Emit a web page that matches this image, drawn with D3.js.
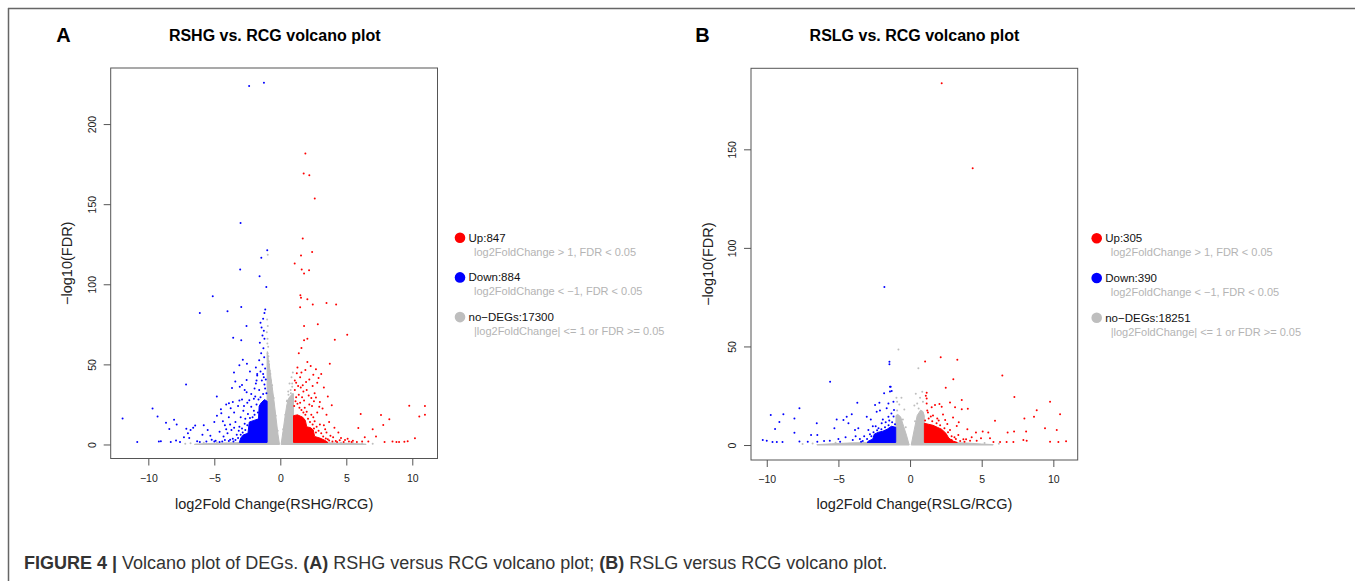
<!DOCTYPE html>
<html>
<head>
<meta charset="utf-8">
<script src="https://cdn.jsdelivr.net/npm/d3@7"></script>
<style>
  html, body { margin: 0; padding: 0; background: #fff; }
  svg { display: block; }
  text { font-family: "Liberation Sans", Arial, Helvetica, sans-serif; }
</style>
</head>
<body>
<svg id="fig" width="1355" height="581"></svg>
<script>
// ---- axis ticks ----
const xTicks = [-10, -5, 0, 5, 10];
const yTicksA = [0, 50, 100, 150, 200];
const yTicksB = [0, 50, 100, 150];

// ---- titles / labels ----
const panelLetters = ["A", "B"];
const panelTitles = ["RSHG vs. RCG volcano plot", "RSLG vs. RCG volcano plot"];
const xTitles = ["log2Fold Change(RSHG/RCG)", "log2Fold Change(RSLG/RCG)"];
const yTitle = "\u2212log10(FDR)";

// ---- legend ----
const legendLabelsA = ["Up:847", "Down:884", "no\u2212DEGs:17300"];
const legendLabelsB = ["Up:305", "Down:390", "no\u2212DEGs:18251"];
const legendRules = [
  "log2FoldChange > 1, FDR < 0.05",
  "log2FoldChange < \u22121, FDR < 0.05",
  "|log2FoldChange| <= 1 or FDR >= 0.05"
];
const classColors = ["#ff0000", "#0000ff", "#bebebe"];

// ---- panel A: dense cores (log2FC, -log10 FDR outlines) ----
const nsLeftA = [[-0.06,0],[-0.18,6.5],[-0.33,17],[-0.48,27.5],[-0.65,38],[-0.78,46],[-0.9,53],[-0.98,58],[-1.0,56],[-1.0,1.3],[-2.5,1.3],[-4,1.0],[-5.5,0.6],[-6.5,0.2],[-6.5,0]];
const nsRightA = [[0.06,0],[0.2,8],[0.35,17],[0.5,25],[0.65,29],[0.85,31],[0.97,32],[1.0,29],[1.0,1.3],[2.5,1.3],[4,1.0],[5.5,0.6],[6.5,0.2],[6.5,0]];
const downCoreA = [[-1.0,1.3],[-1.0,27],[-1.2,28],[-1.45,26],[-1.6,24],[-1.65,16],[-2.0,15],[-2.35,14],[-2.45,7],[-2.8,6],[-3.0,4],[-3.1,1.3]];
const upCoreA = [[1.0,1.3],[1.0,18],[1.3,18.5],[1.7,17],[1.9,15],[2.0,11],[2.3,10.5],[2.5,9],[2.6,5],[3.0,4],[3.4,2.5],[3.6,1.3]];

// ---- panel A: individual genes outside the cores ----
const nsA = [[-1.0,78],[-0.95,74],[-1.02,70],[-0.97,66],[-0.92,61],[-0.96,57],[-0.9,55],[-0.85,50],[-0.8,46],[-0.72,40],[-0.65,35],[-0.55,30],[-0.95,118.5],
  [0.95,45],[0.85,42],[0.7,38],[0.9,36],[0.6,33],[0.8,32],[0.5,27],[0.95,31],[0.75,29],
  [-0.2,8.5],[-0.35,18],[-0.5,29],[-0.62,37],[-0.75,44],[0.22,9.5],[0.38,18.5],[0.52,27.5],[0.62,31],[0.78,34],[0.9,38],[-0.88,52],[-0.98,63],
  [-6.8,0.8],[-5.8,1.1],[5.5,0.9],[6.2,0.6],[-7.2,0.4],[7.0,0.5],[-4.8,1.2],[4.6,1.1]];

const upA = [
  [1.90,181.7],[1.77,169.2],[2.20,168.1],[2.61,153.5],[1.70,128.5],[1.57,118.0],[2.41,120.2],[1.09,113.0],[1.62,109.2],[2.18,108.8],[1.80,106.7],
  [1.52,93.1],[1.57,91.6],[2.05,90.6],[1.50,85.6],[2.46,87.3],[3.50,88.3],[4.23,87.3],[1.80,73.9],[2.84,75.0],[5.07,68.5],[2.05,66.0],[1.80,65.0],
  [4.13,65.4],[1.60,60.2],[3.75,50.4],[2.05,51.5],
  [1.40,57.0],[1.30,48.0],[2.30,49.0],[2.70,47.0],[1.90,46.5],[2.50,43.5],[1.50,42.0],[3.10,44.0],[2.20,40.5],[1.20,38.5],[1.70,37.0],[2.80,38.5],
  [3.30,35.5],[2.00,34.0],[2.60,32.0],[1.40,31.0],[3.60,30.0],[2.70,29.3],[1.80,27.5],[3.00,26.5],[3.90,24.5],[2.20,25.0],[1.10,34.0],[1.55,35.5],
  [2.45,36.5],[1.25,44.5],[2.90,41.5],[1.65,29.5],[2.35,29.0],[3.20,22.5],[2.80,20.0],[3.50,18.5],[2.50,17.0],[3.70,14.0],[3.00,12.5],[4.10,10.5],
  [3.40,9.5],[4.40,7.5],[3.80,5.5],[4.60,4.0],[4.90,2.8],[5.20,1.8],[4.20,2.2],[3.60,3.2],[5.50,2.3],[5.80,1.6],[6.20,1.9],
  [5.91,10.3],[6.09,19.1],[7.00,9.5],[7.25,5.0],[7.63,18.4],[7.80,12.2],[8.26,15.7],[8.50,1.8],[9.00,1.6],[9.40,1.7],[9.65,2.0],[10.20,3.9],
  [9.77,24.1],[10.53,17.4],[10.96,24.0],[10.96,18.6],[6.67,1.8],[7.90,1.5],[6.40,4.5],[8.80,1.6],
  [1.05,24.0],[1.15,27.0],[1.30,25.5],[1.45,23.0],[1.60,21.5],[1.75,20.0],[1.90,18.5],[2.10,16.0],[2.25,14.0],[2.45,12.5],[1.20,29.5],[1.50,26.0],
  [1.85,23.0],[2.00,20.5],[2.35,18.5],[2.60,14.5],[2.75,11.0],[2.90,8.5],[3.10,7.0],[3.25,5.0],[3.45,3.8],[3.70,2.5],[3.95,1.9],[4.30,1.6],
  [2.70,7.5],[2.55,10.0],[3.30,12.0],[3.50,7.5],[4.00,4.5],[4.50,2.6],[4.80,1.5],[5.10,3.5],[5.40,1.6],[1.10,40.0],[1.35,36.5],[1.75,33.0],
  [2.15,30.5],[2.55,27.0],[2.95,23.5],[1.60,45.0],[2.40,24.0],[1.95,39.0]
];

const downA = [
  [-2.36,223.8],[-1.24,225.8],[-3.01,138.3],[-0.99,121.3],[-1.44,116.5],[-3.04,109.2],[-1.57,105.0],[-1.06,98.3],[-5.12,92.5],[-2.96,85.8],
  [-4.00,83.1],[-6.10,82.1],[-1.14,84.2],[-1.20,82.0],[-2.56,74.0],[-3.57,66.7],[-2.96,65.0],
  [-1.30,78.5],[-1.50,76.0],[-1.42,73.0],[-1.25,71.0],[-1.35,68.0],[-1.20,66.0],[-1.55,63.5],[-1.28,60.0],[-1.45,57.0],[-1.22,54.5],[-1.60,52.5],
  [-1.35,50.0],[-1.15,47.5],[-1.50,45.5],[-1.75,43.0],[-1.25,42.0],[-1.40,40.0],[-1.85,38.0],[-1.20,37.5],
  [-2.84,52.9],[-2.53,50.4],[-3.10,49.4],[-2.30,45.5],[-3.51,44.9],[-3.41,39.3],[-3.07,36.1],[-2.90,37.2],[-2.55,40.3],[-3.66,35.3],[-7.14,37.5],
  [-4.81,29.9],[-2.70,34.0],[-2.20,31.5],[-2.00,28.5],[-1.95,35.0],[-1.80,40.0],[-1.75,44.0],[-1.85,48.0],
  [-11.95,16.25],[-10.84,1.5],[-9.68,22.5],[-9.30,17.5],[-9.05,2.0],[-9.20,1.8],[-8.66,13.5],[-8.41,9.6],[-8.05,15.4],[-7.85,12.5],[-8.30,1.6],
  [-7.90,2.5],[-7.60,1.5],[-7.30,4.5],[-7.12,9.8],[-7.00,7.0],[-6.80,9.0],[-6.60,10.5],[-6.45,11.8],[-6.90,4.0],[-6.30,2.0],[-5.90,6.0],[-5.80,12.0],
  [-5.50,9.0],[-5.20,3.0],[-5.30,5.5],[-5.00,14.0],[-4.90,2.3],[-4.80,18.0],[-4.60,8.0],[-4.47,19.5],[-4.50,22.0],[-4.30,5.0],[-4.40,1.8],[-4.20,12.0],
  [-4.10,25.0],[-3.90,17.0],[-3.89,25.7],[-3.80,3.0],[-3.76,22.6],[-3.70,9.0],[-3.60,26.5],[-3.50,20.0],[-3.40,14.0],[-3.30,6.0],[-3.20,24.0],
  [-3.10,11.0],[-3.10,27.4],[-3.00,17.0],[-2.90,28.0],[-2.80,21.0],[-2.70,13.0],[-2.60,3.5],[-2.50,26.0],[-2.35,27.6],[-2.55,32.6],[-6.10,1.6],
  [-5.60,1.8],[-4.00,7.0],[-3.55,1.9],
  [-1.05,32.0],[-1.15,35.0],[-1.30,31.5],[-1.50,29.5],[-1.65,28.0],[-1.80,25.0],[-1.70,20.0],[-1.95,18.5],[-2.10,17.0],[-2.30,16.5],[-2.50,12.0],
  [-2.65,9.0],[-2.85,7.5],[-3.00,6.0],[-3.20,4.0],[-3.40,2.8],[-3.60,3.5],[-3.90,2.2],[-4.20,2.8],[-4.60,1.6],[-5.00,1.9],[-1.10,40.5],[-1.30,44.0],
  [-1.60,34.0],[-1.90,30.0],[-2.20,23.5],[-2.45,19.0],[-2.65,16.0],[-2.90,10.0],[-3.15,8.5],[-3.50,10.5],[-3.80,12.5],[-4.10,9.5],[-4.35,14.5],
  [-2.00,21.0],[-2.75,24.0]
];

// ---- panel B: dense cores ----
const nsLeftB = [[-0.06,0],[-0.25,5],[-0.45,9.5],[-0.66,14.3],[-0.85,15.5],[-0.98,15],[-1.0,1.3],[-2.5,1.3],[-4,1.1],[-5.5,0.6],[-6.5,0.2],[-6.5,0]];
const nsRightB = [[0.08,0],[0.3,8],[0.5,15],[0.74,17.7],[0.9,17],[0.99,15],[1.0,1.3],[2.5,1.3],[4,1.0],[5,0.5],[5.8,0.2],[5.8,0]];
const downCoreB = [[-1.0,1.3],[-1.0,9],[-1.3,9.5],[-1.6,8],[-1.9,7],[-2.2,6.5],[-2.5,5.5],[-2.6,3],[-2.9,2],[-3.0,1.3]];
const upCoreB = [[1.0,1.3],[1.0,11],[1.3,10.5],[1.6,10],[1.9,9],[2.2,8],[2.5,6],[2.7,3.5],[3.0,2],[3.3,1.3]];

// ---- panel B: individual genes ----
const nsB = [[-0.81,48.5],[0.58,38.9],[-0.6,24],[-0.9,22],[0.4,26],[0.7,24],[0.9,22],[-0.4,18],[-0.75,20.5],[0.3,20],[0.85,27],[-0.95,24],[0.5,21],
  [-0.3,9],[-0.5,13],[0.35,12],[0.6,18.5],[-0.9,17.5],
  [-6.8,0.8],[-7.5,0.5],[6.2,0.6],[5.2,1.0],[-5.2,1.1]];

const upB = [
  [2.21,183.5],[4.37,140.4],[1.05,42.4],[2.14,44.5],[3.30,43.3],[3.02,33.3],[2.49,29.1],[6.44,35.3],[7.28,24.3],[9.77,22.0],[8.84,17.6],[8.65,14.4],
  [7.98,13.4],[10.47,15.6],[5.93,12.3],[7.26,6.8],[8.10,6.8],[9.42,8.5],[10.24,7.6],
  [1.16,26.5],[1.16,23.6],[1.16,21.1],[1.51,19.1],[1.74,20.3],[2.05,20.8],[2.21,19.4],[2.79,21.6],[3.14,19.1],[3.61,22.8],[3.61,18.1],[4.03,18.4],
  [1.10,25.0],[1.25,16.5],[1.60,15.0],[2.45,12.7],[2.60,10.7],[3.26,9.6],[2.79,7.6],[3.37,5.1],[3.72,2.9],[3.91,2.9],[4.19,2.2],[4.60,6.3],[4.65,2.2],
  [4.95,3.4],[5.07,6.8],[5.46,6.3],[5.58,3.4],[5.82,1.5],[6.28,1.5],[6.74,1.5],[6.81,6.3],[7.21,1.5],[7.91,2.5],[8.14,2.2],[9.77,1.7],[10.35,1.5],
  [10.89,1.9],[3.0,14.0],[2.3,15.5],[1.9,13.5],[3.4,11.5],[4.0,8.0],[3.1,4.0],[2.9,2.5],
  [1.05,12.5],[1.3,13.5],[1.55,12.0],[1.85,11.0],[2.1,10.0],[2.4,8.5],[2.65,6.5],[2.9,4.5],[3.2,3.0],[3.5,2.0],[1.2,17.5],[1.45,14.5],[2.0,12.5],
  [3.8,1.7],[4.3,4.0]
];

const downB = [
  [-1.79,80.2],[-1.44,42.3],[-1.44,41.0],[-1.40,29.6],[-1.40,27.1],[-5.58,32.1],[-1.81,26.2],
  [-10.28,2.5],[-9.72,15.2],[-9.42,8.1],[-9.12,11.7],[-8.84,15.6],[-9.60,1.5],[-9.30,1.5],[-8.90,1.5],[-8.07,13.5],[-7.72,18.6],[-8.07,6.2],
  [-7.72,1.8],[-7.14,1.7],[-6.91,5.1],[-6.51,11.1],[-6.47,5.1],[-6.47,1.7],[-5.28,8.5],[-5.12,13.0],[-4.88,1.7],[-4.65,12.7],[-4.42,14.4],
  [-4.30,11.1],[-4.07,15.6],[-3.84,7.6],[-3.68,21.5],[-3.61,8.5],[-3.42,1.7],[-3.02,14.4],[-2.91,7.6],[-2.74,13.0],[-2.44,20.3],[-2.33,16.9],
  [-2.14,21.5],[-1.98,11.1],[-1.63,18.6],[-1.51,21.1],[-1.35,29.6],[-1.28,27.4],[-1.16,22.0],[-1.12,17.8],[-1.51,14.4],
  [-3.2,4.5],[-3.5,3.0],[-4.0,2.5],[-4.5,4.0],[-5.0,3.0],[-2.6,9.5],[-2.2,8.5],[-1.9,13.0],[-2.8,5.5],[-1.7,11.5],[-1.3,16.0],[-2.1,17.5],
  [-3.8,4.5],[-5.6,2.2],[-6.0,2.0],[-10.0,2.2],
  [-1.05,10.5],[-1.25,11.5],[-1.5,10.0],[-1.75,9.0],[-2.0,8.0],[-2.3,7.5],[-2.55,6.5],[-2.7,4.5],[-3.0,3.0],[-3.3,2.0],[-1.15,14.5],[-1.45,12.5],
  [-2.4,9.5]
];

// ---- caption ----
const captionParts = [
  ["FIGURE 4 | ", true], ["Volcano plot of DEGs. ", false], ["(A)", true], [" RSHG versus RCG volcano plot; ", false],
  ["(B)", true], [" RSLG versus RCG volcano plot.", false]
];

const svg = d3.select("#fig");
const axisColor = "#555";

// outer figure frame (top and left rules)
svg.append("line").attr("x1", 8).attr("y1", 8.5).attr("x2", 1355).attr("y2", 8.5).attr("stroke", "#666").attr("stroke-width", 1.5);
svg.append("line").attr("x1", 8.5).attr("y1", 8).attr("x2", 8.5).attr("y2", 581).attr("stroke", "#666").attr("stroke-width", 1.5);

function drawPanel(p) {
  const g = svg.append("g");
  const x = d3.scaleLinear().domain(p.xDomain).range(p.xRange);
  const y = d3.scaleLinear().domain(p.yDomain).range(p.yRange);
  const line = d3.line().x(d => x(d[0])).y(d => y(d[1]));
  const dotR = 1.0;

  // letter + title
  g.append("text").attr("x", p.letterX).attr("y", 42).attr("font-size", 20).attr("font-weight", "bold")
    .attr("text-anchor", "middle").text(p.letter);
  g.append("text").attr("x", p.titleX).attr("y", 41).attr("font-size", 16).attr("font-weight", "bold")
    .attr("text-anchor", "middle").text(p.title);

  // dense regions, then the individual genes on top
  const dense = g.append("g");
  p.nsCores.forEach(poly => dense.append("path").attr("d", line(poly) + "Z")
    .attr("fill", classColors[2]).attr("stroke", classColors[2]).attr("stroke-width", 1));
  dense.selectAll(".ns").data(p.ns).join("circle")
    .attr("cx", d => x(d[0])).attr("cy", d => y(d[1])).attr("r", dotR).attr("fill", classColors[2]);
  dense.append("path").attr("d", line(p.upCore) + "Z").attr("fill", classColors[0]).attr("stroke", classColors[0]).attr("stroke-width", 1);
  dense.append("path").attr("d", line(p.downCore) + "Z").attr("fill", classColors[1]).attr("stroke", classColors[1]).attr("stroke-width", 1);
  dense.selectAll(".up").data(p.up).join("circle")
    .attr("cx", d => x(d[0])).attr("cy", d => y(d[1])).attr("r", dotR).attr("fill", classColors[0]);
  dense.selectAll(".down").data(p.down).join("circle")
    .attr("cx", d => x(d[0])).attr("cy", d => y(d[1])).attr("r", dotR).attr("fill", classColors[1]);

  // plot box
  g.append("rect").attr("x", p.xRange[0]).attr("y", p.yRange[1])
    .attr("width", p.xRange[1] - p.xRange[0]).attr("height", p.yRange[0] - p.yRange[1])
    .attr("fill", "none").attr("stroke", axisColor).attr("stroke-width", 1);

  // x axis
  const gx = g.append("g").attr("transform", `translate(0,${p.yRange[0]})`)
    .call(d3.axisBottom(x).tickValues(xTicks).tickSize(7).tickPadding(9));
  gx.select(".domain").remove();
  gx.selectAll("line").attr("stroke", axisColor);
  gx.selectAll("text").attr("font-size", 10.5).attr("fill", "#222")
    .style("font-family", '"Liberation Sans", Arial, sans-serif');

  // y axis with rotated labels
  const gy = g.append("g").attr("transform", `translate(${p.xRange[0]},0)`)
    .call(d3.axisLeft(y).tickValues(p.yTicks).tickSize(7));
  gy.select(".domain").remove();
  gy.selectAll("line").attr("stroke", axisColor);
  gy.selectAll("text").attr("transform", "rotate(-90)").attr("x", 0).attr("y", -15).attr("dy", 0)
    .attr("text-anchor", "middle").attr("font-size", 10.5).attr("fill", "#222")
    .style("font-family", '"Liberation Sans", Arial, sans-serif');

  // axis titles
  g.append("text").attr("x", (p.xRange[0] + p.xRange[1]) / 2).attr("y", 509).attr("font-size", 14.5)
    .attr("text-anchor", "middle").attr("fill", "#222").text(p.xTitle);
  g.append("text").attr("transform", `translate(${p.yTitleX},${(p.yRange[0] + p.yRange[1]) / 2}) rotate(-90)`)
    .attr("font-size", 14.5).attr("text-anchor", "middle").attr("fill", "#222").text(yTitle);

  // legend
  const lg = g.append("g");
  p.legendLabels.forEach((lab, i) => {
    const cy = p.legendY + i * 39.7;
    lg.append("circle").attr("cx", p.legendX).attr("cy", cy).attr("r", 5.3).attr("fill", classColors[i]);
    lg.append("text").attr("x", p.legendX + 8.5).attr("y", cy + 4).attr("font-size", 11.5).attr("fill", "#111").text(lab);
    lg.append("text").attr("x", p.legendX + 14).attr("y", cy + 17.8).attr("font-size", 11).attr("fill", "#b4b4b4").text(legendRules[i]);
  });
}

drawPanel({
  letter: panelLetters[0], title: panelTitles[0], letterX: 63.5, titleX: 274.7,
  xDomain: [-12.85, 11.91], xRange: [110.7, 437.5],
  yDomain: [-8.75, 235], yRange: [458.5, 68],
  yTicks: yTicksA, xTitle: xTitles[0], yTitleX: 72,
  nsCores: [nsLeftA, nsRightA], ns: nsA, upCore: upCoreA, downCore: downCoreA, up: upA, down: downA,
  legendLabels: legendLabelsA, legendX: 460, legendY: 237.7
});

drawPanel({
  letter: panelLetters[1], title: panelTitles[1], letterX: 702.5, titleX: 914.5,
  xDomain: [-11.1, 11.7], xRange: [751, 1077.7],
  yDomain: [-7.6, 191.1], yRange: [460, 68.3],
  yTicks: yTicksB, xTitle: xTitles[1], yTitleX: 713,
  nsCores: [nsLeftB, nsRightB], ns: nsB, upCore: upCoreB, downCore: downCoreB, up: upB, down: downB,
  legendLabels: legendLabelsB, legendX: 1096.7, legendY: 238.3
});

// caption
const cap = svg.append("text").attr("x", 24).attr("y", 569).attr("font-size", 18).attr("fill", "#333");
captionParts.forEach(([t, bold]) => cap.append("tspan").attr("font-weight", bold ? "bold" : "normal").text(t));
</script>
</body>
</html>
